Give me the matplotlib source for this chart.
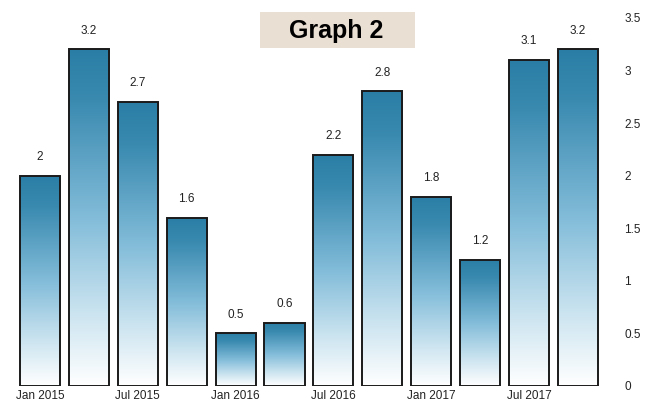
import numpy as np
import matplotlib.pyplot as plt
from matplotlib.colors import LinearSegmentedColormap
from matplotlib.patches import Rectangle

# quarterly values, Jan 2015 .. Oct 2017
values = [2, 3.2, 2.7, 1.6, 0.5, 0.6, 2.2, 2.8, 1.8, 1.2, 3.1, 3.2]
tick_pos = [0, 2, 4, 6, 8, 10]
tick_labels = ["Jan 2015", "Jul 2015", "Jan 2016", "Jul 2016", "Jan 2017", "Jul 2017"]
y_ticks = [0, 0.5, 1, 1.5, 2, 2.5, 3, 3.5]

small = ["Liberation Sans", "DejaVu Sans"]

fig = plt.figure(figsize=(6.58, 4.07), dpi=100)
ax = fig.add_axes([0.023, 0.052, 0.896, 0.904])

cmap = LinearSegmentedColormap.from_list(
    "bar", [(0.0, "#ffffff"), (0.2, "#cfe6f1"), (0.5, "#82bcd9"),
            (0.85, "#3a8ab0"), (1.0, "#2a7ea5")])
grad = np.linspace(0, 1, 256).reshape(-1, 1)

x = np.arange(len(values))
bars = ax.bar(x, values, width=0.82, facecolor="none",
              edgecolor="#1a1a1a", linewidth=1.4, zorder=3)
for b, v in zip(bars, values):
    x0 = b.get_x()
    im = ax.imshow(grad, cmap=cmap, origin="lower", aspect="auto",
                   extent=[x0, x0 + b.get_width(), 0, v], zorder=2)
    im.set_clip_path(b)
    ax.text(b.get_x() + b.get_width() / 2, v + 0.12, f"{v:g}",
            ha="center", va="bottom", fontsize=8.5, color="#222222",
            family=small)

ax.set_xlim(-0.51, 11.55)
ax.set_ylim(0, 3.5)
ax.yaxis.tick_right()
ax.set_yticks(y_ticks)
ax.set_yticklabels([f"{t:g}" for t in y_ticks], family=small,
                   fontsize=8.5, color="#222222")
ax.set_xticks(tick_pos)
ax.set_xticklabels(tick_labels, family=small, fontsize=8.5,
                   color="#222222")
ax.tick_params(length=0, axis="y", pad=14)
ax.tick_params(length=0, axis="x", pad=3)
for s in ax.spines.values():
    s.set_visible(False)

# title box
fig.patches.append(Rectangle((0.395, 0.882), 0.236, 0.089,
                             transform=fig.transFigure,
                             facecolor="#eadfd3", edgecolor="none"))
fig.text(0.511, 0.924, "Graph 2", ha="center", va="center",
         fontsize=18, fontweight="bold", family=small)

fig.savefig("out.png", dpi=100)
